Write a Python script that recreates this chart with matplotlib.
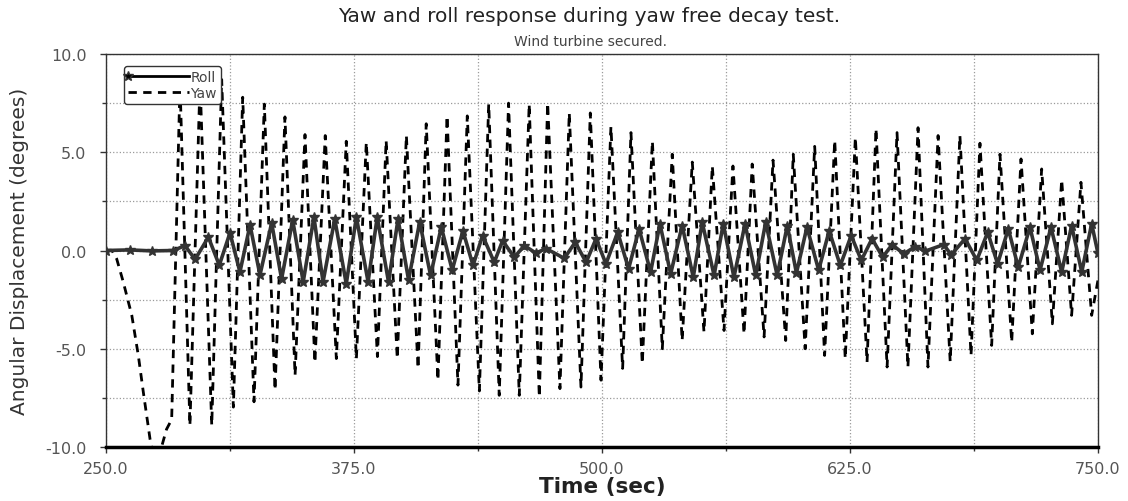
import numpy as np
import matplotlib
matplotlib.use("Agg")
import matplotlib.pyplot as plt
from matplotlib.ticker import MultipleLocator, FormatStrFormatter

# yaw: slow release at the start, then turning points of each swing
yaw_start_t = [250.0, 253.0, 255.4, 258.7, 263.0, 266.3, 268.8, 272.2, 275.0, 278.0, 280.5, 283.1]
yaw_start_v = [0.0, 0.0, -0.43, -1.6, -3.3, -5.35, -7.2, -9.6, -11.0, -10.0, -9.1, -8.6]

yaw_peak_t = [287.3, 297.4, 308.3, 318.9, 329.8, 340.2, 350.3, 360.5, 371.1, 381.2,
              391.2, 401.4, 411.4, 421.9, 432.1, 442.9, 452.9, 463.3, 472.6, 483.5,
              494.1, 504.5, 514.6, 525.4, 535.4, 545.5, 555.6, 566.0, 575.7, 586.2,
              596.4, 607.2, 617.3, 627.7, 638.1, 648.7, 659.3, 669.4, 680.4, 690.5,
              700.6, 711.2, 721.6, 731.7, 741.4]
yaw_peak_v = [8.5, 8.6, 8.7, 7.8, 7.45, 6.8, 5.9, 5.85, 5.56, 5.5,
              5.6, 5.85, 6.45, 6.85, 6.85, 7.45, 7.5, 7.45, 7.5, 7.0,
              7.0, 6.3, 6.0, 5.56, 4.9, 4.5, 4.3, 4.3, 4.4, 4.6,
              4.9, 5.3, 5.6, 5.75, 6.2, 6.0, 6.25, 5.85, 5.85, 5.46,
              4.9, 4.66, 4.15, 3.6, 3.47]

yaw_trough_t = [292.3, 303.3, 314.2, 324.6, 335.2, 345.3, 355.3, 366.1, 376.2, 386.8,
                396.8, 407.3, 417.3, 427.4, 438.2, 448.2, 458.3, 468.4, 478.8, 489.4,
                499.5, 510.4, 520.3, 530.4, 540.4, 551.4, 561.5, 571.6, 581.7, 592.6,
                602.4, 612.2, 622.6, 633.6, 643.7, 654.2, 664.3, 675.5, 686.0, 696.4,
                706.5, 716.9, 727.0, 736.7, 746.8, 750.0]
yaw_trough_v = [-8.9, -8.9, -7.97, -7.7, -7.1, -6.35, -5.7, -5.5, -5.5, -5.4,
                -5.5, -6.0, -6.6, -6.85, -7.15, -7.37, -7.37, -7.46, -7.03, -6.95,
                -6.6, -6.0, -5.76, -5.0, -4.58, -4.15, -4.07, -4.24, -4.4, -4.58,
                -5.0, -5.34, -5.5, -5.68, -5.93, -5.93, -5.93, -5.65, -5.34, -4.83,
                -4.66, -4.24, -3.73, -3.3, -3.3, -1.5]

# roll: flat until release, then turning points
roll_t = [250.0, 262.0, 273.0, 284.0,
          289.8, 294.9, 301.6, 307.1, 312.5, 317.5, 322.6, 327.6, 333.5, 338.5,
          344.1, 349.4, 354.8, 359.4, 365.3, 371.1, 376.2, 382.1, 386.7, 392.4,
          397.2, 402.5, 408.1, 413.6, 419.0, 424.5, 429.9, 435.0, 439.8, 445.7,
          449.9, 455.8, 460.8, 466.7, 471.8, 481.0, 486.5, 492.0, 497.0, 502.0,
          507.9, 513.4, 518.7, 524.5, 529.2, 534.6, 540.4, 546.0, 550.5, 556.5,
          561.1, 566.5, 572.1, 577.5, 582.5, 588.3, 593.4, 598.0, 603.3, 609.2,
          614.5, 620.1, 625.6, 630.7, 636.1, 641.5, 646.2, 652.1, 657.9, 663.0,
          672.2, 676.0, 683.0, 688.9, 694.4, 699.4, 704.8, 709.8, 715.7, 720.8,
          726.3, 731.7, 736.7, 741.8, 746.8, 750.0]
roll_v = [0.0, 0.03, -0.02, 0.0,
          0.25, -0.45, 0.68, -0.75, 0.9, -1.1, 1.3, -1.25, 1.4, -1.45,
          1.55, -1.6, 1.7, -1.6, 1.6, -1.7, 1.7, -1.6, 1.7, -1.6,
          1.6, -1.5, 1.45, -1.27, 1.2, -1.0, 1.0, -0.76, 0.76, -0.6,
          0.5, -0.35, 0.25, -0.13, 0.1, -0.4, 0.42, -0.6, 0.6, -0.68,
          0.93, -0.93, 1.1, -1.1, 1.36, -1.19, 1.27, -1.36, 1.44, -1.27,
          1.36, -1.36, 1.36, -1.27, 1.44, -1.27, 1.27, -1.15, 1.19, -1.0,
          1.0, -0.76, 0.76, -0.5, 0.6, -0.34, 0.3, -0.17, 0.2, -0.03,
          0.3, -0.22, 0.6, -0.5, 0.93, -0.68, 1.1, -0.85, 1.19, -1.0,
          1.19, -1.1, 1.27, -1.1, 1.36, -0.15]

# merge the yaw turning points in time order
swing_t = np.array(yaw_peak_t + yaw_trough_t)
swing_v = np.array(yaw_peak_v + yaw_trough_v)
order = np.argsort(swing_t)
yaw_t = np.concatenate([yaw_start_t, swing_t[order]])
yaw_v = np.concatenate([yaw_start_v, swing_v[order]])

plt.rcParams['font.family'] = ['DejaVu Sans']

fig = plt.figure(figsize=(11.28, 5.02), dpi=100)
ax = fig.add_axes([106 / 1128, 1 - 448 / 502, 992 / 1128, 393 / 502])

ax.plot(roll_t, roll_v, color='#333333', lw=2.6, marker='*', ms=7,
        mec='#333333', label='Roll', zorder=3)
ax.plot(yaw_t, yaw_v, color='black', lw=2.0, ls=(0, (3.0, 2.3)),
        label='Yaw', zorder=2)

ax.set_xlim(250, 750)
ax.set_ylim(-10, 10)
ax.xaxis.set_major_locator(MultipleLocator(125))
ax.xaxis.set_minor_locator(MultipleLocator(62.5))
ax.yaxis.set_major_locator(MultipleLocator(5))
ax.yaxis.set_minor_locator(MultipleLocator(2.5))
ax.xaxis.set_major_formatter(FormatStrFormatter('%.1f'))
ax.yaxis.set_major_formatter(FormatStrFormatter('%.1f'))
ax.grid(which='both', color='#9a9a9a', ls=':', lw=0.9)
ax.tick_params(which='both', direction='out', colors='#333333', labelsize=11.5,
               labelcolor='#555555', length=4, width=1)
ax.tick_params(axis='y', pad=10)
ax.tick_params(axis='x', pad=6)
ax.tick_params(which='minor', length=3)

for side in ['top', 'right', 'left']:
    ax.spines[side].set_color('#333333')
    ax.spines[side].set_linewidth(1.0)
ax.spines['bottom'].set_color('black')
ax.spines['bottom'].set_linewidth(2.5)

ax.set_xlabel('Time (sec)', fontsize=15.5, fontweight='bold', color='#222222', labelpad=0)
ax.set_ylabel('Angular Displacement (degrees)', fontsize=14.5, color='#333333', labelpad=12)

fig.text(589 / 1128, 1 - 16 / 502, 'Yaw and roll response during yaw free decay test.',
         ha='center', va='center', fontsize=14.5, color='#222222')
fig.text(590 / 1128, 1 - 42 / 502, 'Wind turbine secured.',
         ha='center', va='center', fontsize=10, color='#444444')

leg = ax.legend(loc='upper left', bbox_to_anchor=(0.018, 0.969), borderaxespad=0,
                fontsize=10, handlelength=4.4, handletextpad=0.1, labelspacing=0.1,
                borderpad=0.3, fancybox=True, framealpha=1, edgecolor='#333333')
leg.get_frame().set_linewidth(1.0)
leg.get_lines()[0].set_markevery([0])
leg.get_lines()[0].set_color('black')
leg.get_lines()[0].set_linewidth(2.0)
for txt in leg.get_texts():
    txt.set_color('#444444')

fig.savefig('out.png', dpi=100, facecolor='white')
